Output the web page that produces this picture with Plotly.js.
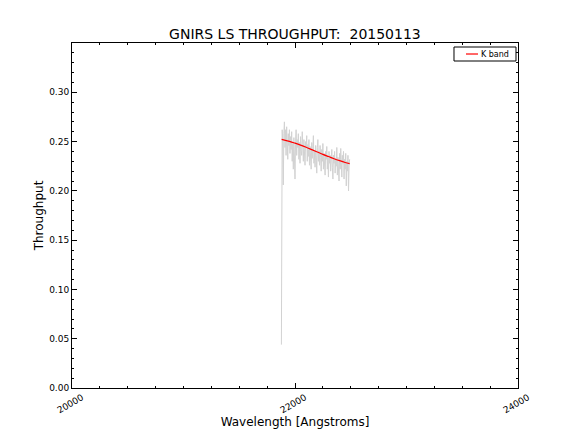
<!DOCTYPE html>
<html>
<head>
<meta charset="utf-8">
<script src="https://cdn.plot.ly/plotly-3.0.1.min.js"></script>
<style>html,body{margin:0;padding:0;background:#fff;}#chart{width:576px;height:432px;}</style>
</head>
<body>
<div id="chart"></div>
<script>
// Raw throughput (gray, noisy)
const rawWave = [21878,
  21880, 21885, 21890, 21895, 21900, 21905, 21910, 21915, 21920, 21925,
  21930, 21935, 21940, 21945, 21950, 21955, 21960, 21965, 21970, 21975,
  21980, 21985, 21990, 21995, 22000, 22005, 22010, 22015, 22020, 22025,
  22030, 22035, 22040, 22045, 22050, 22055, 22060, 22065, 22070, 22075,
  22080, 22085, 22090, 22095, 22100, 22105, 22110, 22115, 22120, 22125,
  22130, 22135, 22140, 22145, 22150, 22155, 22160, 22165, 22170, 22175,
  22180, 22185, 22190, 22195, 22200, 22205, 22210, 22215, 22220, 22225,
  22230, 22235, 22240, 22245, 22250, 22255, 22260, 22265, 22270, 22275,
  22280, 22285, 22290, 22295, 22300, 22305, 22310, 22315, 22320, 22325,
  22330, 22335, 22340, 22345, 22350, 22355, 22360, 22365, 22370, 22375,
  22380, 22385, 22390, 22395, 22400, 22405, 22410, 22415, 22420, 22425,
  22430, 22435, 22440, 22445, 22450, 22455, 22460, 22465, 22470, 22475,
  22480, 22485, 22490];
const rawThru = [0.044,
  0.255, 0.262, 0.248, 0.206, 0.258, 0.270, 0.244, 0.262, 0.236, 0.265,
  0.250, 0.232, 0.258, 0.246, 0.262, 0.238, 0.255, 0.242, 0.260, 0.230,
  0.248, 0.222, 0.254, 0.240, 0.212, 0.250, 0.262, 0.236, 0.252, 0.244,
  0.258, 0.232, 0.249, 0.228, 0.255, 0.241, 0.236, 0.260, 0.246, 0.230,
  0.252, 0.238, 0.226, 0.250, 0.244, 0.256, 0.230, 0.247, 0.235, 0.252,
  0.226, 0.245, 0.238, 0.222, 0.249, 0.233, 0.243, 0.256, 0.228, 0.240,
  0.224, 0.246, 0.236, 0.218, 0.244, 0.252, 0.230, 0.240, 0.226, 0.246,
  0.234, 0.220, 0.242, 0.230, 0.248, 0.222, 0.238, 0.228, 0.216, 0.240,
  0.232, 0.245, 0.222, 0.236, 0.214, 0.240, 0.228, 0.236, 0.220, 0.232,
  0.242, 0.224, 0.212, 0.236, 0.228, 0.240, 0.218, 0.233, 0.225, 0.244,
  0.216, 0.234, 0.226, 0.210, 0.238, 0.222, 0.243, 0.226, 0.214, 0.236,
  0.228, 0.240, 0.212, 0.232, 0.222, 0.238, 0.205, 0.230, 0.220, 0.236,
  0.200, 0.226, 0.232];
// Smoothed fit (red)
const fitWave = [21880, 21950, 22000, 22050, 22100, 22150, 22200, 22250, 22300, 22350, 22400, 22450, 22490];
const fitThru = [0.2522, 0.2502, 0.2484, 0.2464, 0.2442, 0.2418, 0.2394, 0.2370, 0.2348, 0.2326, 0.2306, 0.2288, 0.2276];
const xTicks = [20000, 22000, 24000];
const xTickText = ['20000', '22000', '24000'];
const yTicks = [0.00, 0.05, 0.10, 0.15, 0.20, 0.25, 0.30];
const yMinor = [0.01,0.02,0.03,0.04,0.06,0.07,0.08,0.09,0.11,0.12,0.13,0.14,0.16,0.17,0.18,0.19,
                0.21,0.22,0.23,0.24,0.26,0.27,0.28,0.29,0.31,0.32,0.33,0.34];
const legendLabel = 'K band';

const font = 'DejaVu Sans, Liberation Sans, sans-serif';
const traces = [
  {x: rawWave, y: rawThru, type: 'scatter', mode: 'lines',
   line: {color: '#d2d2d2', width: 1}, showlegend: false, hoverinfo: 'skip'},
  {x: fitWave, y: fitThru, type: 'scatter', mode: 'lines', name: legendLabel,
   line: {color: '#ff0000', width: 1.2, shape: 'spline'}, showlegend: false}
];
const layout = {
  width: 576, height: 432,
  margin: {l: 72, r: 58, t: 43, b: 44},
  paper_bgcolor: '#fff', plot_bgcolor: '#fff',
  font: {family: font, color: '#000', size: 9},
  title: {text: 'GNIRS LS THROUGHPUT:  20150113', font: {size: 14, family: font},
          x: 0.512, xanchor: 'center', y: 0.922, yanchor: 'middle'},
  xaxis: {range: [20000, 24000], tickvals: xTicks, ticktext: xTickText,
          tickangle: -30, ticklabelshift: 10, ticks: 'inside', ticklen: 5, tickcolor: '#000',
          showline: true, linecolor: '#000', linewidth: 1, mirror: 'allticks',
          showgrid: false, zeroline: false,
          minor: {dtick: 250, tick0: 20000, ticks: 'inside', ticklen: 2, tickcolor: '#000'},
          title: {text: 'Wavelength [Angstroms]', font: {size: 12, family: font}, standoff: 3}},
  yaxis: {range: [0, 0.35], tickvals: yTicks, tickformat: '.2f',
          ticks: 'inside', ticklen: 5, tickcolor: '#000',
          showline: true, linecolor: '#000', linewidth: 1, mirror: 'allticks',
          showgrid: false, zeroline: false,
          minor: {tickvals: yMinor, ticks: 'inside', ticklen: 2, tickcolor: '#000'},
          title: {text: 'Throughput', font: {size: 12, family: font}, standoff: 2}},
  showlegend: false,
  shapes: [
    {type: 'rect', xref: 'paper', yref: 'paper', x0: 0.8565, x1: 0.9955, y0: 0.9478, y1: 0.9884,
     line: {color: '#000', width: 1}, fillcolor: '#fff'},
    {type: 'line', xref: 'paper', yref: 'paper', x0: 0.8834, x1: 0.9103, y0: 0.9681, y1: 0.9681,
     line: {color: '#ff0000', width: 1.2}}
  ],
  annotations: [
    {xref: 'paper', yref: 'paper', x: 0.912, y: 0.9681, xanchor: 'left', yanchor: 'middle',
     text: legendLabel, showarrow: false, font: {size: 8, family: font, color: '#000'}}
  ]
};
Plotly.newPlot('chart', traces, layout, {staticPlot: true, displayModeBar: false});
</script>
</body>
</html>
